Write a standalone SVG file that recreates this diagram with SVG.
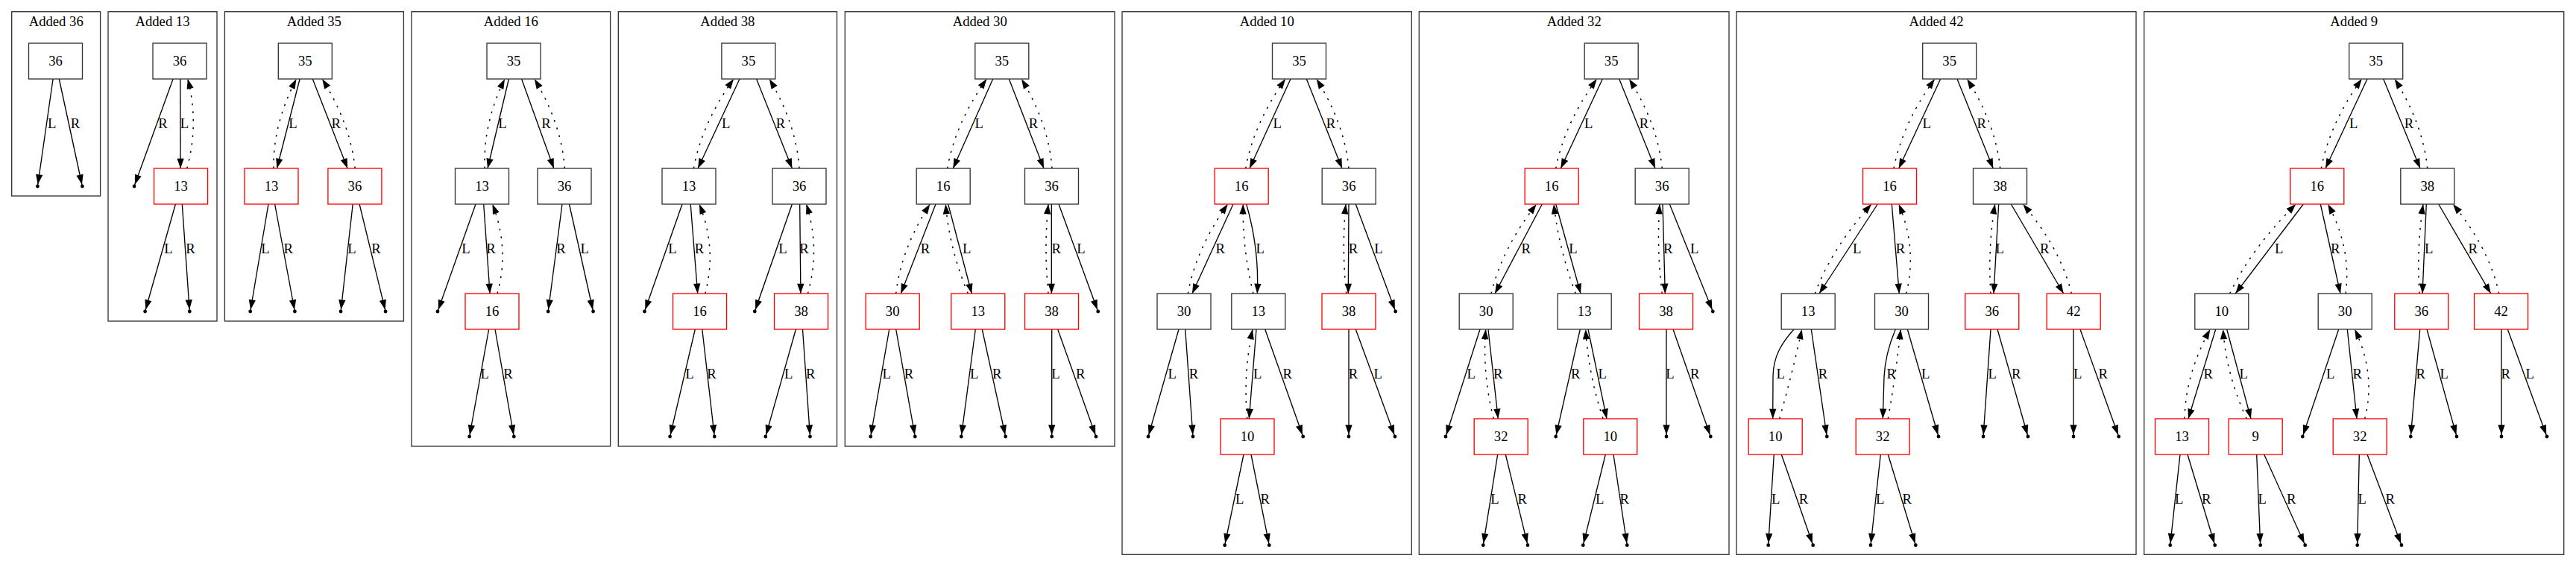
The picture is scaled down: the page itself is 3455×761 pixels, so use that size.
<svg xmlns="http://www.w3.org/2000/svg" width="3455" height="761" viewBox="0 0 3455 761">
<style>
.cl{fill:none;stroke:#333;stroke-width:1.33}
.nb{fill:#fff;stroke:#333;stroke-width:1.33}
.nr{fill:#fff;stroke:#f00;stroke-width:1.33}
text{font-family:"Liberation Serif","Times New Roman",serif;font-size:18.67px;fill:#000;text-anchor:middle}
.e{fill:none;stroke:#000;stroke-width:1.33;marker-end:url(#a)}
.ep{fill:none;stroke:#000;stroke-width:1.33;marker-end:url(#ap)}
.d{fill:none;stroke:#000;stroke-width:1.5;stroke-dasharray:2.5 8.2;marker-end:url(#a)}
.pt{fill:#000}
</style>
<defs>
<marker id="a" markerUnits="userSpaceOnUse" markerWidth="14" markerHeight="10" refX="13.3" refY="4.67" orient="auto" overflow="visible"><path d="M0,0L13.3,4.67L0,9.33z" fill="#000"/></marker>
<marker id="ap" markerUnits="userSpaceOnUse" markerWidth="14" markerHeight="10" refX="15.7" refY="4.67" orient="auto" overflow="visible"><path d="M0,0L13.3,4.67L0,9.33z" fill="#000"/></marker>
</defs>
<rect width="3455" height="761" fill="#fff"/>
<g id="clusters">
<g id="c_added36"><rect class="cl" x="15.7" y="15.7" width="118.9" height="247.3"/><text x="75.2" y="35">Added 36</text></g>
<g id="c_added13"><rect class="cl" x="145" y="15.7" width="146" height="415.3"/><text x="218" y="35">Added 13</text></g>
<g id="c_added35"><rect class="cl" x="301.4" y="15.7" width="240" height="415.3"/><text x="421.4" y="35">Added 35</text></g>
<g id="c_added16"><rect class="cl" x="551.9" y="15.7" width="266.7" height="583.3"/><text x="685.3" y="35">Added 16</text></g>
<g id="c_added38"><rect class="cl" x="829.3" y="15.7" width="293.2" height="583.3"/><text x="975.9" y="35">Added 38</text></g>
<g id="c_added30"><rect class="cl" x="1133.3" y="15.7" width="361.7" height="583.3"/><text x="1314.2" y="35">Added 30</text></g>
<g id="c_added10"><rect class="cl" x="1505" y="15.7" width="388.3" height="728.6"/><text x="1699.2" y="35">Added 10</text></g>
<g id="c_added32"><rect class="cl" x="1903.3" y="15.7" width="415.7" height="728.6"/><text x="2111.2" y="35">Added 32</text></g>
<g id="c_added42"><rect class="cl" x="2329" y="15.7" width="536" height="728.6"/><text x="2597" y="35">Added 42</text></g>
<g id="c_added9"><rect class="cl" x="2875.7" y="15.7" width="563" height="728.6"/><text x="3157.2" y="35">Added 9</text></g>
</g>
<g id="connectors">
<!-- Added 36 -->
<path class="ep" d="M71.1,106L50.4,250"/><text x="69.6" y="172">L</text>
<path class="ep" d="M79.3,106L110.4,250"/><text x="101" y="172">R</text>
<!-- Added 13 -->
<path class="ep" d="M232.1,106L180,250"/><text x="218.6" y="172">R</text>
<path class="e" d="M241.8,106L242.1,226"/><text x="247.4" y="172">L</text>
<path class="d" d="M250.7,226Q267.3,166 251.8,106"/>
<path class="ep" d="M235.4,274L194.6,418"/><text x="226" y="340">L</text>
<path class="ep" d="M244.3,274L254.3,418"/><text x="255.6" y="340">R</text>
<!-- Added 35 -->
<path class="e" d="M402.1,106L371.4,226"/><text x="392.9" y="172">L</text>
<path class="d" d="M366.8,226Q366.2,166 397.5,106"/>
<path class="e" d="M419.3,106L466.1,226"/><text x="450.7" y="172">R</text>
<path class="d" d="M476.1,226Q470.1,166 432.1,106"/>
<path class="ep" d="M360,274L335.7,418"/><text x="356" y="340">L</text>
<path class="ep" d="M368.6,274L395.4,418"/><text x="386.8" y="340">R</text>
<path class="ep" d="M473.2,274L457.1,418"/><text x="472" y="340">L</text>
<path class="ep" d="M482.1,274L517.1,418"/><text x="504.6" y="340">R</text>
<!-- Added 16 -->
<path class="e" d="M682.4,106L654,226"/><text x="674" y="172">L</text>
<path class="d" d="M650.2,226Q647.6,166 677,106"/>
<path class="e" d="M699.6,106L742.8,226"/><text x="732.5" y="172">R</text>
<path class="d" d="M757.4,226Q753.1,166 716.8,106"/>
<path class="ep" d="M638,274L587,418"/><text x="625" y="340">L</text>
<path class="e" d="M648.7,274L657.1,394"/><text x="658.6" y="340">R</text>
<path class="d" d="M667,394Q683.8,334 660.5,274"/>
<path class="ep" d="M754,274L735.2,418"/><text x="752.4" y="340">R</text>
<path class="ep" d="M763.5,274L795.6,418"/><text x="784.2" y="340">L</text>
<path class="ep" d="M655.6,442L629.6,586"/><text x="650.2" y="508">L</text>
<path class="ep" d="M664,442L689.3,586"/><text x="681.6" y="508">R</text>
<!-- Added 38 -->
<path class="e" d="M992,106L936.1,226"/><text x="973.6" y="172">L</text>
<path class="d" d="M930.4,226Q941.2,166 984,106"/>
<path class="e" d="M1014.6,106L1062.4,226"/><text x="1047" y="172">R</text>
<path class="d" d="M1072,226Q1067.9,166 1031.8,106"/>
<path class="ep" d="M915,274L864.5,418"/><text x="902" y="340">L</text>
<path class="e" d="M926.2,274L935.7,394"/><text x="938" y="340">R</text>
<path class="d" d="M945.7,394Q961.9,334 938,274"/>
<path class="ep" d="M1062.4,274L1012.3,418"/><text x="1050" y="340">L</text>
<path class="e" d="M1072.7,274L1073.9,394"/><text x="1078.5" y="340">R</text>
<path class="d" d="M1083.4,394Q1100.5,334 1081.5,274"/>
<path class="ep" d="M932.3,442L898.6,586"/><text x="925" y="508">L</text>
<path class="ep" d="M941.8,442L958.3,586"/><text x="954.5" y="508">R</text>
<path class="ep" d="M1067.4,442L1026.8,586"/><text x="1057.8" y="508">L</text>
<path class="ep" d="M1076.5,442L1086.5,586"/><text x="1087.3" y="508">R</text>
<!-- Added 30 -->
<path class="e" d="M1331.7,106L1278.3,226"/><text x="1313.3" y="172">L</text>
<path class="d" d="M1270.7,226Q1281,166 1323.3,106"/>
<path class="e" d="M1353.3,106L1400,226"/><text x="1386" y="172">R</text>
<path class="d" d="M1411,226Q1406.5,166 1370,106"/>
<path class="e" d="M1255,274L1208.3,394"/><text x="1241" y="340">R</text>
<path class="d" d="M1201.7,394Q1208.5,334 1247.3,274"/>
<path class="e" d="M1271.7,274L1303.3,394"/><text x="1296.7" y="340">L</text>
<path class="d" d="M1298.3,394Q1273.3,334 1268.3,274"/>
<path class="e" d="M1410.3,274L1410.3,394"/><text x="1416.7" y="340">R</text>
<path class="d" d="M1406,394Q1400,334 1406,274"/>
<path class="ep" d="M1420,274L1472.7,418"/><text x="1450" y="340">L</text>
<path class="ep" d="M1192.7,442L1167.7,586"/><text x="1189.3" y="508">L</text>
<path class="ep" d="M1201.7,442L1227.3,586"/><text x="1219" y="508">R</text>
<path class="ep" d="M1308.3,442L1289.3,586"/><text x="1306.7" y="508">L</text>
<path class="ep" d="M1317.3,442L1348.7,586"/><text x="1337.3" y="508">R</text>
<path class="ep" d="M1410.7,442L1410.7,586"/><text x="1416" y="508">L</text>
<path class="ep" d="M1418.7,442L1470,586"/><text x="1449.3" y="508">R</text>
<!-- Added 10 -->
<path class="e" d="M1731,106L1676,226"/><text x="1713.3" y="172">L</text>
<path class="d" d="M1670.7,226Q1681.4,166 1724,106"/>
<path class="e" d="M1752.3,106L1800,226"/><text x="1785" y="172">R</text>
<path class="d" d="M1809,226Q1803.4,166 1765.7,106"/>
<path class="e" d="M1654,274L1599,394"/><text x="1636.7" y="340">R</text>
<path class="d" d="M1593.3,394Q1604,334 1646.7,274"/>
<path class="e" d="M1671.7,274Q1689,334 1686.3,394"/><text x="1690.3" y="340">L</text>
<path class="d" d="M1681,394Q1666.2,334 1667.3,274"/>
<path class="e" d="M1809,274L1808.3,394"/><text x="1815" y="340">R</text>
<path class="d" d="M1805.7,394Q1799.4,334 1805,274"/>
<path class="ep" d="M1818.3,274L1871.7,418"/><text x="1849" y="340">L</text>
<path class="ep" d="M1581,442L1540,586"/><text x="1572.3" y="508">L</text>
<path class="ep" d="M1589.7,442L1600,586"/><text x="1601" y="508">R</text>
<path class="e" d="M1685,442L1675.3,562"/><text x="1686.7" y="508">L</text>
<path class="d" d="M1672.7,562Q1667.2,502 1680,442"/>
<path class="ep" d="M1696.7,442L1747.7,586"/><text x="1726.7" y="508">R</text>
<path class="ep" d="M1809,442L1809,586"/><text x="1815" y="508">R</text>
<path class="ep" d="M1818.3,442L1871,586"/><text x="1848.3" y="508">L</text>
<path class="ep" d="M1668,610L1642.7,731.7"/><text x="1662.7" y="676">L</text>
<path class="ep" d="M1678,610L1702.3,731.7"/><text x="1696.7" y="676">R</text>
<!-- Added 32 -->
<path class="e" d="M2149.3,106L2093.3,226"/><text x="2130.7" y="172">L</text>
<path class="d" d="M2086.7,226Q2098.2,166 2141.7,106"/>
<path class="e" d="M2171.7,106L2220,226"/><text x="2205" y="172">R</text>
<path class="d" d="M2229.3,226Q2223.2,166 2185,106"/>
<path class="e" d="M2068.3,274L2005,394"/><text x="2046.7" y="340">R</text>
<path class="d" d="M2000,394Q2014.4,334 2060.7,274"/>
<path class="e" d="M2086.7,274L2120,394"/><text x="2110" y="340">L</text>
<path class="d" d="M2113.3,394Q2090.7,334 2084,274"/>
<path class="e" d="M2230,274L2233.3,394"/><text x="2237.3" y="340">R</text>
<path class="d" d="M2229.3,394Q2221.7,334 2226,274"/>
<path class="ep" d="M2239.3,274L2297.3,418"/><text x="2272.7" y="340">L</text>
<path class="ep" d="M1985,442L1939,586"/><text x="1973.3" y="508">L</text>
<path class="e" d="M1996,442L2009.3,562"/><text x="2009.3" y="508">R</text>
<path class="d" d="M2003.3,562Q1988,502 1992.7,442"/>
<path class="ep" d="M2119.3,442L2086.7,586"/><text x="2113.3" y="508">R</text>
<path class="e" d="M2130,442L2155,562"/><text x="2149.3" y="508">L</text>
<path class="d" d="M2150,562Q2130.4,502 2126.7,442"/>
<path class="ep" d="M2235,442L2235,586"/><text x="2240" y="508">L</text>
<path class="ep" d="M2244,442L2294.3,586"/><text x="2273.3" y="508">R</text>
<path class="ep" d="M2008.7,610L1989.3,731.7"/><text x="2005" y="676">L</text>
<path class="ep" d="M2019.3,610L2049,731.7"/><text x="2041.7" y="676">R</text>
<path class="ep" d="M2153.3,610L2123.3,731.7"/><text x="2145.7" y="676">L</text>
<path class="ep" d="M2164,610L2182.3,731.7"/><text x="2178.7" y="676">R</text>
<!-- Added 42 -->
<path class="e" d="M2602.7,106L2546.7,226"/><text x="2584.3" y="172">L</text>
<path class="d" d="M2540,226Q2551.5,166 2595,106"/>
<path class="e" d="M2625,106L2673.3,226"/><text x="2657.7" y="172">R</text>
<path class="d" d="M2682.7,226Q2676.5,166 2638.3,106"/>
<path class="e" d="M2518.3,274L2440,394"/><text x="2490.7" y="340">L</text>
<path class="d" d="M2434.3,394Q2456.2,334 2510,274"/>
<path class="e" d="M2537.3,274L2547.3,394"/><text x="2549" y="340">R</text>
<path class="d" d="M2556.7,394Q2571.7,334 2546.7,274"/>
<path class="e" d="M2680.7,274L2674,394"/><text x="2682.3" y="340">L</text>
<path class="d" d="M2670,394Q2665.9,334 2675.7,274"/>
<path class="e" d="M2697.3,274L2767.7,394"/><text x="2742.3" y="340">R</text>
<path class="d" d="M2778.3,394Q2763.8,334 2713.3,274"/>
<path class="e" d="M2406,442C2390,460 2378,478 2378,506L2377.7,562"/><text x="2388.3" y="508">L</text>
<path class="d" d="M2386.7,562Q2403.7,502 2416.7,442"/>
<path class="ep" d="M2429.3,442L2450.3,586"/><text x="2445" y="508">R</text>
<path class="e" d="M2542.3,442C2533,464 2528,483 2527,506L2525.3,562"/><text x="2536.7" y="508">R</text>
<path class="d" d="M2532.3,562Q2542.8,502 2549.3,442"/>
<path class="ep" d="M2558.3,442L2600,586"/><text x="2582.7" y="508">L</text>
<path class="ep" d="M2670,442L2660,586"/><text x="2672.3" y="508">L</text>
<path class="ep" d="M2679,442L2720,586"/><text x="2704.3" y="508">R</text>
<path class="ep" d="M2781,442L2781,586"/><text x="2786.7" y="508">L</text>
<path class="ep" d="M2790,442L2841.7,586"/><text x="2820.7" y="508">R</text>
<path class="ep" d="M2379.3,610L2371.7,731.7"/><text x="2381.7" y="676">L</text>
<path class="ep" d="M2389.3,610L2431.7,731.7"/><text x="2419" y="676">R</text>
<path class="ep" d="M2522.3,610L2509,731.7"/><text x="2521.7" y="676">L</text>
<path class="ep" d="M2532.3,610L2569.3,731.7"/><text x="2557.7" y="676">R</text>
<!-- Added 9 -->
<path class="e" d="M3175,106L3119,226"/><text x="3156.7" y="172">L</text>
<path class="d" d="M3113.3,226Q3124.5,166 3167.7,106"/>
<path class="e" d="M3196.7,106L3246,226"/><text x="3231" y="172">R</text>
<path class="d" d="M3255.7,226Q3249.7,166 3211.7,106"/>
<path class="e" d="M3089.3,274L2998.3,394"/><text x="3056.7" y="340">L</text>
<path class="d" d="M2990.7,394Q3019,334 3079.3,274"/>
<path class="e" d="M3112.3,274L3139,394"/><text x="3132.3" y="340">R</text>
<path class="d" d="M3146,394Q3154.2,334 3122.3,274"/>
<path class="e" d="M3254.3,274L3249,394"/><text x="3257.7" y="340">L</text>
<path class="d" d="M3245,394Q3241,334 3250,274"/>
<path class="e" d="M3270.7,274L3340.7,394"/><text x="3316.7" y="340">R</text>
<path class="d" d="M3351.7,394Q3338.9,334 3290,274"/>
<path class="e" d="M2971.7,442L2935,562"/><text x="2961.7" y="508">R</text>
<path class="d" d="M2930,562Q2931.2,502 2964.3,442"/>
<path class="e" d="M2986.7,442L3019,562"/><text x="3009.3" y="508">L</text>
<path class="d" d="M3013.3,562Q2985.5,502 2981.7,442"/>
<path class="ep" d="M3136.7,442L3088.3,586"/><text x="3125.7" y="508">L</text>
<path class="e" d="M3148.3,442L3161,562"/><text x="3161.7" y="508">R</text>
<path class="d" d="M3171.7,562Q3187,502 3158.3,442"/>
<path class="ep" d="M3245.7,442L3233.3,586"/><text x="3246.7" y="508">R</text>
<path class="ep" d="M3255,442L3295,586"/><text x="3278.3" y="508">L</text>
<path class="ep" d="M3355,442L3355,586"/><text x="3360.7" y="508">R</text>
<path class="ep" d="M3363.3,442L3416,586"/><text x="3393.3" y="508">L</text>
<path class="ep" d="M2924,610L2910.7,731.7"/><text x="2922.7" y="676">L</text>
<path class="ep" d="M2934,610L2970.7,731.7"/><text x="2959.3" y="676">R</text>
<path class="ep" d="M3026.7,610L3031.7,731.7"/><text x="3034.3" y="676">L</text>
<path class="ep" d="M3036.7,610L3091.7,731.7"/><text x="3073.3" y="676">R</text>
<path class="ep" d="M3164.3,610L3161.7,731.7"/><text x="3168.3" y="676">L</text>
<path class="ep" d="M3175,610L3221,731.7"/><text x="3205.7" y="676">R</text>
</g>
<g id="nodes">
<g id="a36_n36"><rect class="nb" x="38.5" y="58" width="72" height="48"/><text x="74.5" y="87.5">36</text></g>
<g id="a36_p1"><circle class="pt" cx="50.4" cy="250" r="2.4"/></g>
<g id="a36_p2"><circle class="pt" cx="110.4" cy="250" r="2.4"/></g>

<g id="a13_n36"><rect class="nb" x="205" y="58" width="72" height="48"/><text x="241" y="87.5">36</text></g>
<g id="a13_n13"><rect class="nr" x="206.5" y="226" width="72" height="48"/><text x="242.5" y="255.5">13</text></g>
<g id="a13_p1"><circle class="pt" cx="180" cy="250" r="2.4"/></g>
<g id="a13_p2"><circle class="pt" cx="194.6" cy="418" r="2.4"/></g>
<g id="a13_p3"><circle class="pt" cx="254.3" cy="418" r="2.4"/></g>

<g id="a35_n35"><rect class="nb" x="373.3" y="58" width="72" height="48"/><text x="409.3" y="87.5">35</text></g>
<g id="a35_n13"><rect class="nr" x="328" y="226" width="72" height="48"/><text x="364" y="255.5">13</text></g>
<g id="a35_n36"><rect class="nr" x="439.9" y="226" width="72" height="48"/><text x="475.9" y="255.5">36</text></g>
<g id="a35_p1"><circle class="pt" cx="335.7" cy="418" r="2.4"/></g>
<g id="a35_p2"><circle class="pt" cx="395.4" cy="418" r="2.4"/></g>
<g id="a35_p3"><circle class="pt" cx="457.1" cy="418" r="2.4"/></g>
<g id="a35_p4"><circle class="pt" cx="517.1" cy="418" r="2.4"/></g>

<g id="a16_n35"><rect class="nb" x="653" y="58" width="72" height="48"/><text x="689" y="87.5">35</text></g>
<g id="a16_n13"><rect class="nb" x="610.5" y="226" width="72" height="48"/><text x="646.5" y="255.5">13</text></g>
<g id="a16_n36"><rect class="nb" x="721" y="226" width="72" height="48"/><text x="757" y="255.5">36</text></g>
<g id="a16_n16"><rect class="nr" x="624" y="394" width="72" height="48"/><text x="660" y="423.5">16</text></g>
<g id="a16_p1"><circle class="pt" cx="587" cy="418" r="2.4"/></g>
<g id="a16_p2"><circle class="pt" cx="735.2" cy="418" r="2.4"/></g>
<g id="a16_p3"><circle class="pt" cx="795.6" cy="418" r="2.4"/></g>
<g id="a16_p4"><circle class="pt" cx="629.6" cy="586" r="2.4"/></g>
<g id="a16_p5"><circle class="pt" cx="689.3" cy="586" r="2.4"/></g>

<g id="a38_n35"><rect class="nb" x="967.9" y="58" width="72" height="48"/><text x="1003.9" y="87.5">35</text></g>
<g id="a38_n13"><rect class="nb" x="888" y="226" width="72" height="48"/><text x="924" y="255.5">13</text></g>
<g id="a38_n36"><rect class="nb" x="1036" y="226" width="72" height="48"/><text x="1072" y="255.5">36</text></g>
<g id="a38_n16"><rect class="nr" x="902.5" y="394" width="72" height="48"/><text x="938.5" y="423.5">16</text></g>
<g id="a38_n38"><rect class="nr" x="1038.5" y="394" width="72" height="48"/><text x="1074.5" y="423.5">38</text></g>
<g id="a38_p1"><circle class="pt" cx="864.5" cy="418" r="2.4"/></g>
<g id="a38_p2"><circle class="pt" cx="1012.3" cy="418" r="2.4"/></g>
<g id="a38_p3"><circle class="pt" cx="898.6" cy="586" r="2.4"/></g>
<g id="a38_p4"><circle class="pt" cx="958.3" cy="586" r="2.4"/></g>
<g id="a38_p5"><circle class="pt" cx="1026.8" cy="586" r="2.4"/></g>
<g id="a38_p6"><circle class="pt" cx="1086.5" cy="586" r="2.4"/></g>

<g id="a30_n35"><rect class="nb" x="1307.8" y="58" width="72" height="48"/><text x="1343.8" y="87.5">35</text></g>
<g id="a30_n16"><rect class="nb" x="1229.2" y="226" width="72" height="48"/><text x="1265.2" y="255.5">16</text></g>
<g id="a30_n36"><rect class="nb" x="1374.5" y="226" width="72" height="48"/><text x="1410.5" y="255.5">36</text></g>
<g id="a30_n30"><rect class="nr" x="1161.2" y="394" width="72" height="48"/><text x="1197.2" y="423.5">30</text></g>
<g id="a30_n13"><rect class="nr" x="1275.8" y="394" width="72" height="48"/><text x="1311.8" y="423.5">13</text></g>
<g id="a30_n38"><rect class="nr" x="1374.5" y="394" width="72" height="48"/><text x="1410.5" y="423.5">38</text></g>
<g id="a30_p1"><circle class="pt" cx="1472.7" cy="418" r="2.4"/></g>
<g id="a30_p2"><circle class="pt" cx="1167.7" cy="586" r="2.4"/></g>
<g id="a30_p3"><circle class="pt" cx="1227.3" cy="586" r="2.4"/></g>
<g id="a30_p4"><circle class="pt" cx="1289.3" cy="586" r="2.4"/></g>
<g id="a30_p5"><circle class="pt" cx="1348.7" cy="586" r="2.4"/></g>
<g id="a30_p6"><circle class="pt" cx="1410.7" cy="586" r="2.4"/></g>
<g id="a30_p7"><circle class="pt" cx="1470" cy="586" r="2.4"/></g>

<g id="a10_n35"><rect class="nb" x="1706.5" y="58" width="72" height="48"/><text x="1742.5" y="87.5">35</text></g>
<g id="a10_n16"><rect class="nr" x="1629.2" y="226" width="72" height="48"/><text x="1665.2" y="255.5">16</text></g>
<g id="a10_n36"><rect class="nb" x="1773.2" y="226" width="72" height="48"/><text x="1809.2" y="255.5">36</text></g>
<g id="a10_n30"><rect class="nb" x="1552" y="394" width="72" height="48"/><text x="1588" y="423.5">30</text></g>
<g id="a10_n13"><rect class="nb" x="1651.8" y="394" width="72" height="48"/><text x="1687.8" y="423.5">13</text></g>
<g id="a10_n38"><rect class="nr" x="1773" y="394" width="72" height="48"/><text x="1809" y="423.5">38</text></g>
<g id="a10_n10"><rect class="nr" x="1637" y="562" width="72" height="48"/><text x="1673" y="591.5">10</text></g>
<g id="a10_p1"><circle class="pt" cx="1871.7" cy="418" r="2.4"/></g>
<g id="a10_p2"><circle class="pt" cx="1540" cy="586" r="2.4"/></g>
<g id="a10_p3"><circle class="pt" cx="1600" cy="586" r="2.4"/></g>
<g id="a10_p4"><circle class="pt" cx="1747.7" cy="586" r="2.4"/></g>
<g id="a10_p5"><circle class="pt" cx="1809" cy="586" r="2.4"/></g>
<g id="a10_p6"><circle class="pt" cx="1871" cy="586" r="2.4"/></g>
<g id="a10_p7"><circle class="pt" cx="1642.7" cy="731.7" r="2.4"/></g>
<g id="a10_p8"><circle class="pt" cx="1702.3" cy="731.7" r="2.4"/></g>

<g id="a32_n35"><rect class="nb" x="2125.2" y="58" width="72" height="48"/><text x="2161.2" y="87.5">35</text></g>
<g id="a32_n16"><rect class="nr" x="2045.2" y="226" width="72" height="48"/><text x="2081.2" y="255.5">16</text></g>
<g id="a32_n36"><rect class="nb" x="2193.2" y="226" width="72" height="48"/><text x="2229.2" y="255.5">36</text></g>
<g id="a32_n30"><rect class="nb" x="1957.2" y="394" width="72" height="48"/><text x="1993.2" y="423.5">30</text></g>
<g id="a32_n13"><rect class="nb" x="2089.2" y="394" width="72" height="48"/><text x="2125.2" y="423.5">13</text></g>
<g id="a32_n38"><rect class="nr" x="2198.5" y="394" width="72" height="48"/><text x="2234.5" y="423.5">38</text></g>
<g id="a32_n32"><rect class="nr" x="1977.2" y="562" width="72" height="48"/><text x="2013.2" y="591.5">32</text></g>
<g id="a32_n10"><rect class="nr" x="2123.8" y="562" width="72" height="48"/><text x="2159.8" y="591.5">10</text></g>
<g id="a32_p1"><circle class="pt" cx="2297.3" cy="418" r="2.4"/></g>
<g id="a32_p2"><circle class="pt" cx="1939" cy="586" r="2.4"/></g>
<g id="a32_p3"><circle class="pt" cx="2086.7" cy="586" r="2.4"/></g>
<g id="a32_p4"><circle class="pt" cx="2235" cy="586" r="2.4"/></g>
<g id="a32_p5"><circle class="pt" cx="2294.3" cy="586" r="2.4"/></g>
<g id="a32_p6"><circle class="pt" cx="1989.3" cy="731.7" r="2.4"/></g>
<g id="a32_p7"><circle class="pt" cx="2049" cy="731.7" r="2.4"/></g>
<g id="a32_p8"><circle class="pt" cx="2123.3" cy="731.7" r="2.4"/></g>
<g id="a32_p9"><circle class="pt" cx="2182.3" cy="731.7" r="2.4"/></g>

<g id="a42_n35"><rect class="nb" x="2578.7" y="58" width="72" height="48"/><text x="2614.7" y="87.5">35</text></g>
<g id="a42_n16"><rect class="nr" x="2498.5" y="226" width="72" height="48"/><text x="2534.5" y="255.5">16</text></g>
<g id="a42_n38"><rect class="nb" x="2646.5" y="226" width="72" height="48"/><text x="2682.5" y="255.5">38</text></g>
<g id="a42_n13"><rect class="nb" x="2389.2" y="394" width="72" height="48"/><text x="2425.2" y="423.5">13</text></g>
<g id="a42_n30"><rect class="nb" x="2514.5" y="394" width="72" height="48"/><text x="2550.5" y="423.5">30</text></g>
<g id="a42_n36"><rect class="nr" x="2635.8" y="394" width="72" height="48"/><text x="2671.8" y="423.5">36</text></g>
<g id="a42_n42"><rect class="nr" x="2745.2" y="394" width="72" height="48"/><text x="2781.2" y="423.5">42</text></g>
<g id="a42_n10"><rect class="nr" x="2345.2" y="562" width="72" height="48"/><text x="2381.2" y="591.5">10</text></g>
<g id="a42_n32"><rect class="nr" x="2489.2" y="562" width="72" height="48"/><text x="2525.2" y="591.5">32</text></g>
<g id="a42_p1"><circle class="pt" cx="2450.3" cy="586" r="2.4"/></g>
<g id="a42_p2"><circle class="pt" cx="2600" cy="586" r="2.4"/></g>
<g id="a42_p3"><circle class="pt" cx="2660" cy="586" r="2.4"/></g>
<g id="a42_p4"><circle class="pt" cx="2720" cy="586" r="2.4"/></g>
<g id="a42_p5"><circle class="pt" cx="2781" cy="586" r="2.4"/></g>
<g id="a42_p6"><circle class="pt" cx="2841.7" cy="586" r="2.4"/></g>
<g id="a42_p7"><circle class="pt" cx="2371.7" cy="731.7" r="2.4"/></g>
<g id="a42_p8"><circle class="pt" cx="2431.7" cy="731.7" r="2.4"/></g>
<g id="a42_p9"><circle class="pt" cx="2509" cy="731.7" r="2.4"/></g>
<g id="a42_p10"><circle class="pt" cx="2569.3" cy="731.7" r="2.4"/></g>

<g id="a9_n35"><rect class="nb" x="3150.7" y="58" width="72" height="48"/><text x="3186.7" y="87.5">35</text></g>
<g id="a9_n16"><rect class="nr" x="3071.8" y="226" width="72" height="48"/><text x="3107.8" y="255.5">16</text></g>
<g id="a9_n38"><rect class="nb" x="3219.8" y="226" width="72" height="48"/><text x="3255.8" y="255.5">38</text></g>
<g id="a9_n10"><rect class="nb" x="2943.8" y="394" width="72" height="48"/><text x="2979.8" y="423.5">10</text></g>
<g id="a9_n30"><rect class="nb" x="3109.2" y="394" width="72" height="48"/><text x="3145.2" y="423.5">30</text></g>
<g id="a9_n36"><rect class="nr" x="3211.8" y="394" width="72" height="48"/><text x="3247.8" y="423.5">36</text></g>
<g id="a9_n42"><rect class="nr" x="3318.5" y="394" width="72" height="48"/><text x="3354.5" y="423.5">42</text></g>
<g id="a9_n13"><rect class="nr" x="2890.5" y="562" width="72" height="48"/><text x="2926.5" y="591.5">13</text></g>
<g id="a9_n9"><rect class="nr" x="2989.2" y="562" width="72" height="48"/><text x="3025.2" y="591.5">9</text></g>
<g id="a9_n32"><rect class="nr" x="3129.2" y="562" width="72" height="48"/><text x="3165.2" y="591.5">32</text></g>
<g id="a9_p1"><circle class="pt" cx="3088.3" cy="586" r="2.4"/></g>
<g id="a9_p2"><circle class="pt" cx="3233.3" cy="586" r="2.4"/></g>
<g id="a9_p3"><circle class="pt" cx="3295" cy="586" r="2.4"/></g>
<g id="a9_p4"><circle class="pt" cx="3355" cy="586" r="2.4"/></g>
<g id="a9_p5"><circle class="pt" cx="3416" cy="586" r="2.4"/></g>
<g id="a9_p6"><circle class="pt" cx="2910.7" cy="731.7" r="2.4"/></g>
<g id="a9_p7"><circle class="pt" cx="2970.7" cy="731.7" r="2.4"/></g>
<g id="a9_p8"><circle class="pt" cx="3031.7" cy="731.7" r="2.4"/></g>
<g id="a9_p9"><circle class="pt" cx="3091.7" cy="731.7" r="2.4"/></g>
<g id="a9_p10"><circle class="pt" cx="3161.7" cy="731.7" r="2.4"/></g>
<g id="a9_p11"><circle class="pt" cx="3221" cy="731.7" r="2.4"/></g>
</g>
</svg>
